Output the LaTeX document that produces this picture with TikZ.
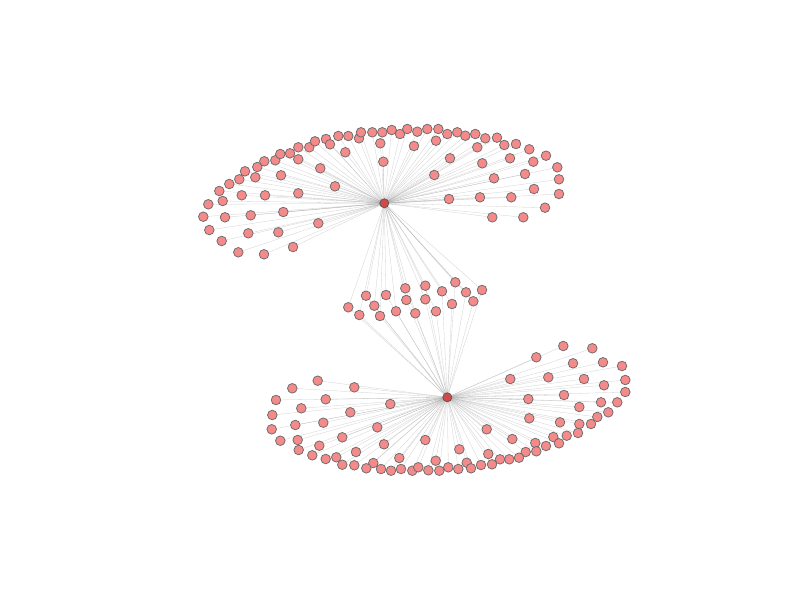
\documentclass[tikz,border=0pt]{standalone}
\pgfdeclarelayer{bg}
\pgfsetlayers{bg,main}
\definecolor{leaf}{RGB}{245,138,138}
\definecolor{hubc}{RGB}{212,72,72}
\definecolor{edgec}{RGB}{150,150,150}
\tikzset{
  leafnode/.style={circle,draw=black!58,line width=0.75pt,fill=leaf,minimum size=9.6pt,inner sep=0pt},
  hubnode/.style={circle,draw=black!65,line width=0.75pt,fill=hubc,minimum size=9pt,inner sep=0pt},
  link/.style={draw=edgec,line width=0.3pt,opacity=0.45}
}
\begin{document}
\begin{tikzpicture}[x=1pt,y=-1pt]
\useasboundingbox (0,0) rectangle (800,600);
\node[hubnode] (h1) at (384.3,203.3) {};
\node[hubnode] (h2) at (447.3,397.3) {};
% top cluster
\foreach \x/\y [count=\i] in {203.3/216.7,208.3/204.3,209.3/230,219.3/191,221.7/241,222.7/201,225/217.3,229.3/184,238.3/252.3,239.3/179.3,241.7/195.3,245/171.3,248.3/233.3,250.7/215.3,255.3/177.3,257.3/167,264/254.3,264.3/161.3,265/195.3,275.3/160.3,278.3/232.3,280.3/154,281/175.3,283.3/212,290/153.3,293/247,298.3/193.3,298.3/147.3,298.3/159.3,309.3/147.3,315/141.3,318.3/223.3,320.3/168.3,326/139,330/144.3,335/186.3,338.3/136,345.3/152.3,348.3/136,359/138.3,361/132.3,372.3/132.3,380.3/143.3,383.3/161.7,382.3/132.3,391.7/130,400/134,407.3/129,414/146,417.3/131.7,427.3/129,434.3/175,436/140.7,438.3/129,447.3/134,449/199,450/158.3,457.3/132.3,465.3/135.7,475.3/134,477.3/147.3,480/197.3,482.3/163.3,485.3/138.3,492.3/217.3,494/178.3,497/137.7,504.3/145,510/158.3,511.3/197.3,516/144,523.3/217.3,525/174,529.3/149.3,533.3/161.7,534/189,545/207.7,546/155.7,557.3/167.3,559/179.3,559/194}
{
  \node[leafnode] (t\i) at (\x,\y) {};
  \begin{pgfonlayer}{bg}\draw[link] (h1.center) -- (t\i.center);\end{pgfonlayer}
}
% middle bridge nodes
\foreach \x/\y [count=\i] in {348.3/307.3,359.3/315,366/295.7,374.3/305.7,380/316,386/295,396/311.3,405.3/288.3,406.3/300,415.3/313.3,425.3/285.7,425.3/299.3,436/311.3,442/291.3,452/304,455.3/282.3,466/292.3,473.3/301.3,482/290}
{
  \node[leafnode] (m\i) at (\x,\y) {};
  \begin{pgfonlayer}{bg}
  \draw[link] (h1.center) -- (m\i.center);
  \draw[link] (h2.center) -- (m\i.center);
  \end{pgfonlayer}
}
% bottom cluster
\foreach \x/\y [count=\i] in {317.7/380.7,292.3/388.3,354.3/387.3,276/400,325.7/399.3,390.3/404,301.3/408.3,272.3/415,350.3/412.3,323.3/422.7,295.3/425,271.7/429.3,377.3/427.3,280.3/440.7,297.7/440,342.3/437.3,384/444.3,425.3/440,319.3/445.7,298.7/450,356/452,312.3/455.3,325.7/459,336.3/457.3,399.3/458,342.3/464.7,354.3/465.3,373.3/463,366.3/468.3,381/469,391/470.7,401/469,412.3/470.7,418.3/467.3,428.3/470.3,435.7/460.7,439.3/470.7,448.3/467.3,458.3/469,459.3/449.3,563.3/346,592.3/348.3,536.3/357.3,573/363.3,603/362.3,622/366,510.3/379,548.3/377.3,584/379,625.3/380,604/385.3,625.3/392,528.3/399,564/395,601/402.3,617.3/402.3,579.3/407,608.3/412.3,597.3/417,529.3/418.3,560/422.3,579.3/424,591/424,486.7/429.3,578/433,566.7/435.7,512.3/439,553.3/437,559/443.3,535.3/443,546/446,536.3/451.3,488.3/454,525.7/452,519/457.7,509.3/459.3,500/459.3,492/464.3,481/465,466.7/462.7,471/468.3}
{
  \node[leafnode] (b\i) at (\x,\y) {};
  \begin{pgfonlayer}{bg}\draw[link] (h2.center) -- (b\i.center);\end{pgfonlayer}
}
\end{tikzpicture}
\end{document}
